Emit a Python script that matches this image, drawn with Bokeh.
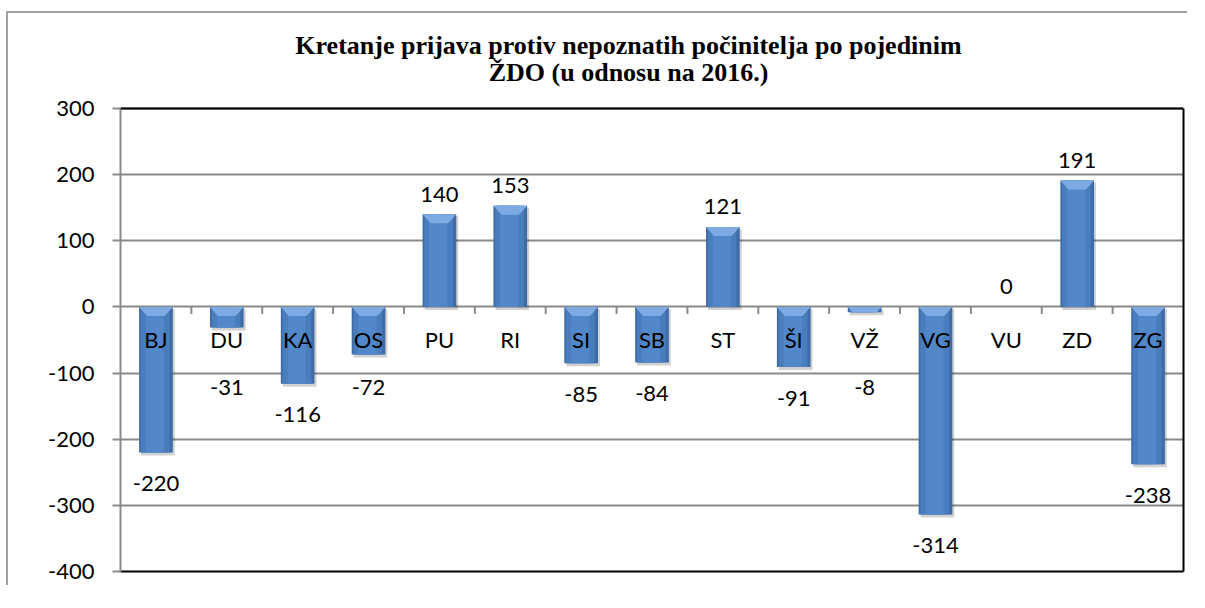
import numpy as np
from bokeh.plotting import figure
from bokeh.models import (Range1d, LinearAxis, FixedTicker, ColumnDataSource, Span)
from bokeh.core.properties import value
from bokeh.embed import file_html
from bokeh.resources import INLINE

# ---- data ----
categories = ["BJ", "DU", "KA", "OS", "PU", "RI", "SI", "SB", "ST", "ŠI", "VŽ", "VG", "VU", "ZD", "ZG"]
values = [-220, -31, -116, -72, 140, 153, -85, -84, 121, -91, -8, -314, 0, 191, -238]
y_ticks = [-400, -300, -200, -100, 0, 100, 200, 300]
title_lines = ["Kretanje prijava protiv nepoznatih počinitelja po pojedinim", "ŽDO (u odnosu na 2016.)"]

FONT = "Lato"
FS = "22px"
GRID = "#8a8a8a"

PLOT_W, PLOT_H = 1063, 463        # pixel size of the value area (-400..300)
HEAD = 86                          # pixels above the value area holding the title
y_lo, y_hi = y_ticks[0], y_ticks[-1]
n = len(categories)
px_y = (y_hi - y_lo) / PLOT_H      # data units per pixel (y)
px_x = n / PLOT_W                  # data units per pixel (x)

p = figure(frame_width=PLOT_W, frame_height=PLOT_H + HEAD,
           x_range=Range1d(-0.5, n - 0.5), y_range=Range1d(y_lo, y_hi + HEAD * px_y),
           output_backend="svg", toolbar_location=None,
           min_border_left=112, min_border_top=9, min_border_right=4, min_border_bottom=14,
           background_fill_color="white", border_fill_color="white")
p.outline_line_color = None
p.styles = {"border-top": "2px solid #a0a0a0", "border-left": "2px solid #a0a0a0",
            "margin-top": "11px", "margin-left": "6px"}


def frame_axis(ax):
    ax.ticker = FixedTicker(ticks=[])
    ax.axis_line_color = "black"
    ax.axis_line_width = 2
    ax.major_tick_line_color = None
    ax.minor_tick_line_color = None
    ax.major_label_text_font_size = "0px"


frame_axis(p.below[0])
rax = LinearAxis(bounds=(y_lo, y_hi))
frame_axis(rax)
p.add_layout(rax, "right")

# y axis (left)
yax = p.left[0]
yax.bounds = (y_lo, y_hi)
yax.ticker = FixedTicker(ticks=y_ticks)
yax.major_label_overrides = {t: str(t) for t in y_ticks}
yax.axis_line_color = GRID
yax.axis_line_width = 2
yax.major_tick_line_color = GRID
yax.major_tick_line_width = 2
yax.major_tick_out = 8
yax.major_tick_in = 0
yax.minor_tick_line_color = None
yax.major_label_text_font = FONT
yax.major_label_text_font_size = FS
yax.major_label_text_color = "black"
yax.major_label_standoff = 18

p.xgrid.grid_line_color = None
p.ygrid.ticker = FixedTicker(ticks=y_ticks)
p.ygrid.grid_line_color = GRID
p.ygrid.grid_line_width = 2

# top frame line
p.add_layout(Span(location=y_hi, dimension="width", line_color="black", line_width=2))

# title (two centred lines)
title_x = -0.5 + 508 * px_x
title_y = [y_hi + 63 * px_y, y_hi + 36 * px_y]
p.text(x=[title_x, title_x], y=title_y, text=title_lines, text_align="center",
       text_baseline="middle", text_font=value("Liberation Serif"), text_font_style="bold",
       text_font_size="26px", text_color="black")

# ---- bars ----
x = np.arange(n, dtype=float)
v = np.array(values, dtype=float)
top = np.maximum(v, 0)
bot = np.minimum(v, 0)
hgt = top - bot
W = 0.475

# shadow (only for non-empty bars)
s_top = np.where(hgt > 0, top - 2 * px_y, top)
s_bot = np.where(hgt > 0, bot - 3 * px_y, top)
p.vbar(x=x + 2 * px_x, width=W, top=s_top, bottom=s_bot,
       fill_color="black", fill_alpha=0.18, line_color=None)
# body layers (pseudo-gradient)
p.vbar(x=x, width=W, top=top, bottom=bot, fill_color="#3E6CA7", line_color=None)
p.vbar(x=x - 0.01, width=W - 0.07, top=top, bottom=bot, fill_color="#4A7DBC", line_color=None)
p.vbar(x=x - 0.015, width=W - 0.22, top=top, bottom=bot, fill_color="#5288C9", line_color=None)

# bevel wedge at the top of each bar
wedge_h = np.minimum(9 * px_y, hgt)
inset = 8 * px_x * (wedge_h / (9 * px_y))
xs, ys = [], []
for xi, ti, hi, di in zip(x, top, wedge_h, inset):
    if hi <= 0:
        continue
    xs.append([xi - W / 2, xi + W / 2, xi + W / 2 - di, xi - W / 2 + di])
    ys.append([ti, ti, ti - hi, ti - hi])
p.patches(xs, ys, fill_color="#7DAAE2", line_color=None)

# tick marks on the zero line between categories
bnd = np.arange(n - 1) + 0.5
p.segment(x0=bnd, x1=bnd, y0=np.zeros_like(bnd), y1=np.zeros_like(bnd) - 7 * px_y,
          line_color=GRID, line_width=2)

# category labels along zero line
p.text(x=x, y=np.zeros_like(x), text=categories, text_align="center", text_baseline="middle",
       y_offset=33, text_font=value(FONT), text_font_size=FS, text_color="black")

# data labels
lab_y = np.where(v < 0, np.minimum(v, -75), v)
lab_off = np.where(v < 0, 31, -20)
src = ColumnDataSource(dict(x=x, y=lab_y, t=[str(int(a)) for a in values], off=lab_off))
p.text(x="x", y="y", text="t", y_offset="off", source=src, text_align="center",
       text_baseline="middle", text_font=value(FONT), text_font_size=FS, text_color="black")

open("out.html", "w").write(file_html(p, INLINE))
